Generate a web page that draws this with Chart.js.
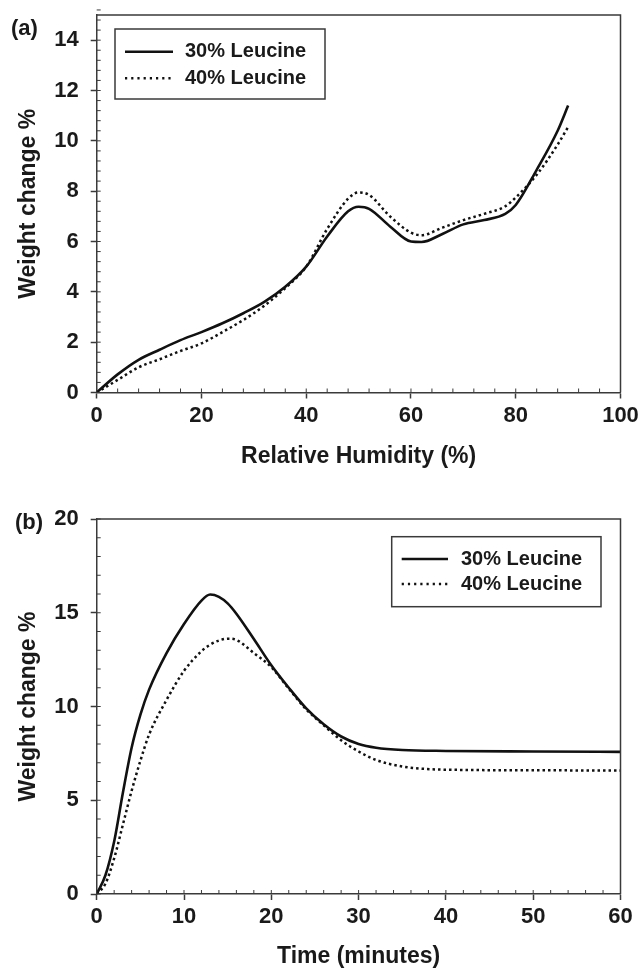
<!DOCTYPE html>
<html><head><meta charset="utf-8">
<script src="https://cdn.jsdelivr.net/npm/chart.js@4"></script>
<style>html,body{margin:0;padding:0;background:#fff;} #wrap{position:relative;width:641px;height:968px;background:#fff;} canvas{position:absolute;left:0;}</style>
</head><body><div id="wrap"><canvas id="ca" width="641" height="480" style="top:0"></canvas><canvas id="cb" width="641" height="488" style="top:480px"></canvas></div>
<script>
// ---- Data (a): weight change vs relative humidity ----
const rhA  = [0, 4, 8, 12, 16, 20, 24, 28, 32, 36, 40, 44, 48, 50, 52, 56, 60, 62, 66, 70, 74, 78, 80, 84, 88, 90];
const wA30 = [0, 0.72, 1.3, 1.7, 2.08, 2.4, 2.75, 3.15, 3.6, 4.2, 5.0, 6.2, 7.2, 7.38, 7.3, 6.6, 6.0, 5.98, 6.3, 6.68, 6.85, 7.1, 7.45, 8.85, 10.4, 11.4];
const wA40 = [0, 0.5, 1.0, 1.32, 1.65, 1.95, 2.4, 2.88, 3.45, 4.15, 5.0, 6.5, 7.7, 7.95, 7.85, 7.0, 6.35, 6.25, 6.55, 6.85, 7.1, 7.4, 7.75, 8.65, 9.85, 10.55];
const xTicksA = [0, 20, 40, 60, 80, 100];
const yTicksA = [0, 2, 4, 6, 8, 10, 12, 14];

// ---- Data (b): weight change vs time ----
const timeB = [0, 1, 2, 3, 4, 5, 6, 8, 10, 12, 13, 14, 15, 16, 18, 20, 22, 24, 26, 28, 30, 32, 35, 40, 50, 60];
const wB30  = [0, 1.0, 2.8, 5.4, 7.8, 9.55, 10.9, 12.85, 14.4, 15.65, 15.97, 15.85, 15.5, 14.95, 13.6, 12.2, 11.0, 9.9, 9.05, 8.4, 8.0, 7.8, 7.68, 7.63, 7.6, 7.58];
const wB40  = [0, 0.55, 1.9, 3.7, 5.5, 7.1, 8.5, 10.35, 11.9, 12.95, 13.3, 13.52, 13.62, 13.55, 12.85, 12.1, 10.95, 9.85, 9.0, 8.2, 7.6, 7.15, 6.8, 6.63, 6.6, 6.58];
const xTicksB = [0, 10, 20, 30, 40, 50, 60];
const yTicksB = [0, 5, 10, 15, 20];

const seriesLabels = ['30% Leucine', '40% Leucine'];

const FONT = "'Liberation Sans', Arial, Helvetica, sans-serif";
const INK = '#1a1a1a', AX = '#3a3a3a';

const pts = (xs, ys) => xs.map((v, i) => ({x: v, y: ys[i]}));

const framePlugin = {
  id: 'frame',
  afterDraw(chart, args, o) {
    const {ctx, chartArea: a, scales: {x, y}} = chart;
    ctx.save();
    ctx.strokeStyle = AX; ctx.lineWidth = 1.5;
    ctx.beginPath(); ctx.moveTo(a.left, a.top); ctx.lineTo(a.right, a.top); ctx.lineTo(a.right, a.bottom); ctx.stroke();
    ctx.lineWidth = 1;
    ctx.beginPath();
    const nx = Math.round((x.max - x.min) / o.minorX);
    for (let i = 0; i <= nx; i++) { const px = x.getPixelForValue(x.min + i * o.minorX); ctx.moveTo(px, a.bottom); ctx.lineTo(px, a.bottom - 4); }
    const ny = Math.round((y.max - y.min) / o.minorY);
    for (let i = 0; i <= ny; i++) { const py = y.getPixelForValue(y.min + i * o.minorY); ctx.moveTo(a.left, py); ctx.lineTo(a.left + 4, py); }
    ctx.stroke();
    ctx.fillStyle = INK; ctx.font = `bold 22px ${FONT}`; ctx.textBaseline = 'middle'; ctx.textAlign = 'left';
    ctx.fillText(o.panel, o.panelX, o.panelY);
    const L = o.legend;
    ctx.lineWidth = 1.5; ctx.strokeStyle = AX;
    ctx.strokeRect(L.x1, L.y1, L.x2 - L.x1, L.y2 - L.y1);
    ctx.font = `bold 20px ${FONT}`;
    chart.data.datasets.forEach((ds, i) => {
      const yy = L.rows[i];
      ctx.save(); ctx.strokeStyle = ds.borderColor; ctx.lineWidth = ds.borderWidth;
      ctx.setLineDash(ds.borderDash && ds.borderDash.length ? [2.2, 4] : []);
      ctx.beginPath(); ctx.moveTo(L.s1, yy); ctx.lineTo(L.s2, yy); ctx.stroke(); ctx.restore();
      ctx.fillStyle = INK;
      ctx.fillText(ds.label, L.tx, yy);
    });
    ctx.restore();
  }
};

function datasets(xs, y30, y40) {
  return [
    {label: seriesLabels[0], data: pts(xs, y30), borderColor: '#111', borderWidth: 2.6, pointRadius: 0, cubicInterpolationMode: 'monotone', fill: false},
    {label: seriesLabels[1], data: pts(xs, y40), borderColor: '#111', borderWidth: 2.5, borderDash: [2.5, 3], pointRadius: 0, cubicInterpolationMode: 'monotone', fill: false}
  ];
}

function makeOpts(c) {
  const tickFont = {family: FONT, size: 22, weight: 'bold'};
  const titleFont = {family: FONT, size: 23, weight: 'bold', lineHeight: 1};
  const grid = {display: true, drawOnChartArea: false, drawTicks: true, tickLength: 6, tickColor: AX, tickWidth: 1.5};
  const border = {display: true, color: AX, width: 1.5};
  return {
    responsive: false, animation: false, events: [],
    layout: {padding: {left: 0, right: c.padRight, top: c.padTop, bottom: 0}},
    plugins: {legend: {display: false}, tooltip: {enabled: false}, frame: c.frame},
    scales: {
      x: {type: 'linear', min: c.xMin, max: c.xMax,
          afterBuildTicks: s => { s.ticks = c.xTicks.map(v => ({value: v})); },
          afterFit: s => { s.height = c.xh; s.paddingLeft = 0; s.paddingRight = 0; },
          grid, border,
          ticks: {color: INK, font: tickFont, padding: 4, maxRotation: 0, autoSkip: false},
          title: {display: true, text: c.xTitle, color: INK, font: titleFont, padding: {top: 0, bottom: c.xtPad}}},
      y: {type: 'linear', min: c.yMin, max: c.yMax,
          afterBuildTicks: s => { s.ticks = c.yTicks.map(v => ({value: v})); },
          afterFit: s => { s.width = 96.7; s.paddingTop = 0; s.paddingBottom = 0; },
          grid, border,
          ticks: {color: INK, font: tickFont, padding: 12, autoSkip: false},
          title: {display: true, text: 'Weight change %', color: INK, font: titleFont, padding: {top: 17, bottom: 0}}}
    }
  };
}

new Chart(document.getElementById('ca'), {
  type: 'line',
  data: {datasets: datasets(rhA, wA30, wA40)},
  options: makeOpts({padRight: 20.5, padTop: 15, xh: 87.5, xtPad: 12, xMin: 0, xMax: 100, yMin: 0, yMax: 15,
    xTicks: xTicksA, yTicks: yTicksA, xTitle: 'Relative Humidity (%)',
    frame: {minorX: 4, minorY: 0.4, panel: '(a)', panelX: 11, panelY: 29,
      legend: {x1: 115, y1: 29, x2: 325, y2: 99, rows: [51.7, 78.3], s1: 125, s2: 173, tx: 185}}}),
  plugins: [framePlugin]
});

new Chart(document.getElementById('cb'), {
  type: 'line',
  data: {datasets: datasets(timeB, wB30, wB40)},
  options: makeOpts({padRight: 20.5, padTop: 39, xh: 74, xtPad: 0, xMin: 0, xMax: 60, yMin: 0, yMax: 20,
    xTicks: xTicksB, yTicks: yTicksB, xTitle: 'Time (minutes)',
    frame: {minorX: 2, minorY: 1, panel: '(b)', panelX: 15, panelY: 43,
      legend: {x1: 391.7, y1: 56.7, x2: 601, y2: 126.7, rows: [79, 104], s1: 401.7, s2: 448, tx: 461}}}),
  plugins: [framePlugin]
});
</script></body></html>
